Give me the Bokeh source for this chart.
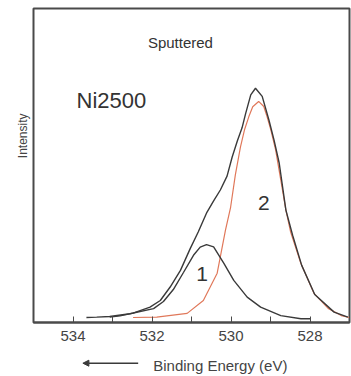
from bokeh.plotting import figure
from bokeh.layouts import column
from bokeh.models import Range1d, FixedTicker, Label, Arrow, NormalHead, Title
from bokeh.embed import file_html
from bokeh.resources import INLINE

# Measured envelope (total)
total_e = [533.07, 532.81, 532.48, 532.05, 531.79, 531.54, 531.28, 531.03, 530.83, 530.61,
           530.44, 530.27, 530.10, 529.97, 529.84, 529.72, 529.63, 529.50, 529.38, 529.21,
           529.04, 528.91, 528.78, 528.61, 528.44, 528.21, 527.88, 527.39, 527.04]
total_i = [1.7, 2.1, 3.0, 4.9, 7.0, 11.3, 16.6, 23.6, 28.8, 35.1,
           38.7, 42.2, 46.6, 52.7, 57.8, 62.0, 66.5, 72.5, 74.6, 72.0,
           64.5, 58.1, 50.8, 35.8, 27.8, 18.2, 8.9, 3.3, 1.7]

# Component 1
p1_e = [533.66, 533.40, 533.07, 532.56, 531.96, 531.71, 531.46, 531.20, 530.95, 530.78,
        530.62, 530.44, 530.18, 529.93, 529.59, 529.25, 528.74, 528.23, 527.98]
p1_i = [1.6, 1.7, 1.9, 2.8, 4.4, 6.7, 10.5, 16.0, 21.4, 24.0,
        24.8, 24.1, 18.8, 13.4, 8.1, 4.9, 2.2, 1.2, 1.2]

# Component 2
p2_e = [532.48, 531.88, 531.11, 530.70, 530.35, 530.14, 530.01, 529.89, 529.76, 529.66,
        529.55, 529.45, 529.30, 529.17, 529.10, 528.99, 528.87, 528.74, 528.61, 528.49,
        528.23, 527.90, 527.54, 527.21, 527.01]
p2_i = [1.6, 1.7, 2.9, 7.0, 15.7, 29.4, 36.7, 47.0, 55.9, 61.3,
        65.5, 68.7, 70.4, 68.8, 66.1, 61.3, 55.0, 45.4, 35.8, 28.8,
        18.8, 9.3, 4.5, 2.2, 1.6]

major_ticks = [534, 532, 530, 528]
minor_ticks = [535, 533, 531, 529, 527]

FONT = "Liberation Sans"
DARK = "#3a3a3a"
FRAME = "#4a4a4a"

xr = Range1d(535, 527)

p = figure(width=351, height=348, output_backend="svg", toolbar_location=None,
           x_range=xr, y_range=Range1d(0, 100),
           min_border_left=33, min_border_right=2, min_border_top=8, min_border_bottom=26)
p.background_fill_color = "white"
p.border_fill_color = "white"
p.grid.visible = False
p.yaxis.visible = False
p.outline_line_color = FRAME
p.outline_line_width = 2

ax = p.xaxis[0]
ax.ticker = FixedTicker(ticks=major_ticks, minor_ticks=minor_ticks)
ax.axis_line_color = FRAME
ax.axis_line_width = 2
ax.major_tick_in = 6
ax.major_tick_out = 0
ax.minor_tick_in = 6
ax.minor_tick_out = 0
ax.major_tick_line_color = FRAME
ax.minor_tick_line_color = FRAME
ax.major_label_text_font = FONT
ax.major_label_text_font_size = "15px"
ax.major_label_text_color = "#444444"
ax.major_label_standoff = 8

p.add_layout(Title(text="Intensity", align="right", offset=105, standoff=8,
                   text_font=FONT, text_font_size="12px", text_font_style="normal",
                   text_color="#444444"), "left")

p.line(p2_e, p2_i, line_color="#e0785a", line_width=1.2)
p.line(p1_e, p1_i, line_color=DARK, line_width=1.4)
p.line(total_e, total_i, line_color=DARK, line_width=1.4)

def lab(fig, x, y, t, size, align="center", color="#333333"):
    fig.add_layout(Label(x=x, y=y, text=t, text_font=FONT, text_font_size=size,
                         text_align=align, text_baseline="middle", text_color=color))

lab(p, 531.28, 89.2, "Sputtered", "15px")
lab(p, 533.91, 70.7, "Ni2500", "22px", align="left")
lab(p, 530.73, 15.6, "1", "21px")
lab(p, 529.17, 38.2, "2", "21px")

# strip below the chart holding the axis caption and its arrow (shares the x scale)
q = figure(width=351, height=28, output_backend="svg", toolbar_location=None,
           x_range=xr, y_range=Range1d(0, 28),
           min_border_left=33, min_border_right=2, min_border_top=0, min_border_bottom=0)
q.axis.visible = False
q.grid.visible = False
q.outline_line_color = None
q.background_fill_color = "white"
q.border_fill_color = "white"
lab(q, 530.27, 11, "Binding Energy (eV)", "15px", color="#444444")
q.add_layout(Arrow(x_start=532.35, y_start=13.3, x_end=533.75, y_end=13.3,
                   line_color=DARK, line_width=1.5,
                   end=NormalHead(size=6, fill_color=DARK, line_color=DARK)))

open("out.html", "w").write(file_html(column(p, q, spacing=0), INLINE))
